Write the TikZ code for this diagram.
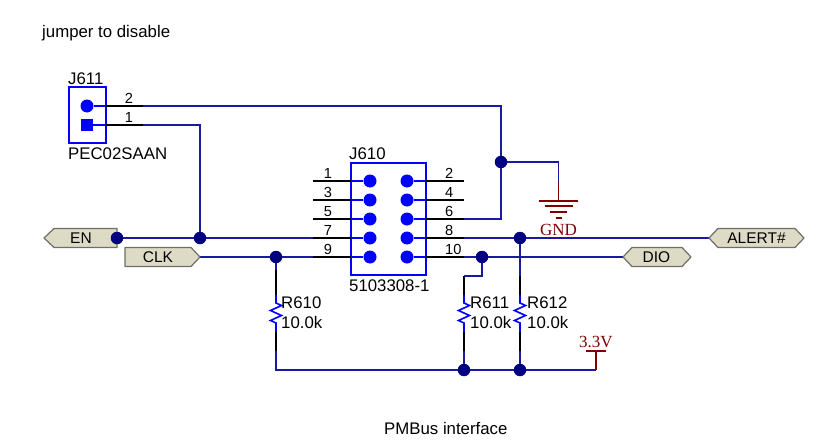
\documentclass[tikz,border=0pt]{standalone}
\usepackage{fontspec}
\setmainfont{Liberation Sans}
\newfontfamily\serifnet{Liberation Serif}
\definecolor{netblue}{HTML}{1A1AA0}
\definecolor{pinblue}{HTML}{0000FF}
\definecolor{junc}{HTML}{000080}
\definecolor{portfill}{HTML}{DDDAC6}
\definecolor{portedge}{HTML}{6E6E64}
\definecolor{pwr}{HTML}{800000}
\tikzset{
 net/.style={draw=netblue,line width=1.6pt},
 pinwire/.style={draw=black,line width=1.6pt},
 thinpin/.style={draw=pinblue,line width=1.2pt},
 pwrline/.style={draw=pwr,line width=1.8pt},
 dotj/.style={circle,fill=junc,inner sep=0pt,minimum size=12.5pt},
 dotp/.style={circle,fill=pinblue,inner sep=0pt,minimum size=13pt},
 sqp/.style={rectangle,fill=pinblue,inner sep=0pt,minimum size=12pt},
 lab/.style={inner sep=0pt,font=\fontsize{16.8}{16.8}\selectfont,text=black},
 plab/.style={inner sep=0pt,font=\fontsize{14.6}{14.6}\selectfont,text=black},
 portlab/.style={inner sep=0pt,font=\fontsize{15.5}{15.5}\selectfont,text=black},
 pwrlab/.style={inner sep=0pt,font=\serifnet\fontsize{17}{17}\selectfont,text=pwr},
 port/.style={fill=portfill,draw=portedge,line width=1.2pt,line join=round},
}
\newcommand{\resistor}[1]{%
 \draw[draw=pinblue,line width=1.6pt,line join=miter] (#1,295) -- (#1,303) -- ++(5.5,2.5) -- ++(-11,5) -- ++(11,5) -- ++(-11,5) -- ++(5.5,2.5) -- (#1,332);}
\begin{document}
\begin{tikzpicture}[x=1pt,y=-1pt]
\useasboundingbox (0,0) rectangle (817,444);
% texts
\node[lab,anchor=west] (title) at (42,33.5) {jumper to disable};
\node[lab,anchor=west] (foot) at (384,428) {PMBus interface};
% J611
\node[draw=pinblue,line width=2pt,inner sep=0pt,minimum width=37pt,minimum height=55pt] (J611) at (87,115) {};
\node[dotp] (j2) at (87,106) {};
\node[sqp] (j1) at (87,125) {};
\node[lab,anchor=west] (J611ref) at (68,79) {J611};
\node[lab,anchor=west] (J611val) at (68,154) {PEC02SAAN};
\coordinate (j2e) at (143,106);
\coordinate (j1e) at (143,125);
\coordinate (j2b) at (106,106);
\coordinate (j1b) at (106,125);
\node[plab] (j2n) at (129,98.5) {2};
\node[plab] (j1n) at (129,117.5) {1};
% J610
\node[draw=pinblue,line width=2pt,inner sep=0pt,minimum width=75pt,minimum height=112.5pt] (J610) at (388.5,219) {};
\node[lab,anchor=west] (J610ref) at (349,154) {J610};
\node[lab,anchor=west] (J610val) at (349,286) {5103308-1};
\foreach \n/\y/\numl/\numr in {1/181/1/2,2/200/3/4,3/219/5/6,4/238/7/8,5/257/9/10}{
  \coordinate (Lb\n) at (351,\y);
  \coordinate (Rb\n) at (426,\y);
  \coordinate (Le\n) at (313,\y);
  \coordinate (Re\n) at (464,\y);
  \node[plab] (Ln\n) at (328,\y-7.5) {\numl};
  \node[plab,anchor=west] (Rn\n) at (445,\y-7.5) {\numr};
}
% junctions
\coordinate (jEN) at (117,238);
\coordinate (jA) at (200,238);
\coordinate (jC) at (276,257);
\coordinate (jD) at (482,257);
\coordinate (jB) at (520,238);
\coordinate (jG) at (501,162);
\coordinate (jR1) at (464,370);
\coordinate (jR2) at (520,370);
\coordinate (vcc) at (596,370);
\coordinate (vccb) at (596,351);
\coordinate (gndc) at (558.5,162);
\coordinate (gndp) at (558.5,182);
\coordinate (gndb) at (558.5,201);
\coordinate (c6) at (501,219);
\coordinate (c611) at (464,276);
\coordinate (c482) at (482,276);
\coordinate (c1) at (200,125);
\coordinate (c2) at (501,106);
\coordinate (r0t) at (276,270);
\coordinate (r0a) at (276,295);
\coordinate (r0b) at (276,332);
\coordinate (r0c) at (276,351);
\coordinate (r0d) at (276,370);
\coordinate (r1a) at (464,295);
\coordinate (r1b) at (464,332);
\coordinate (r1c) at (464,351);
\coordinate (r2t) at (520,276);
\coordinate (r2a) at (520,295);
\coordinate (r2b) at (520,332);
\coordinate (r2c) at (520,351);
% ports
\coordinate (CLKr) at (200,257);
\coordinate (DIOl) at (623,257);
\coordinate (ALl) at (709,238);
% nets
\draw[net] (j2e) -- (c2) -- (jG) -- (c6) -- (Re3);
\draw[net] (j1e) -- (c1) -- (jA);
\draw[net] (jEN) -- (Le4);
\draw[net] (CLKr) -- (Le5);
\draw[net] (Re4) -- (ALl);
\draw[net] (Re5) -- (DIOl);
\draw[net] (jG) -- (gndc) -- (gndp);
\draw[net] (jC) -- (r0t);
\draw[net] (jB) -- (r2t);
\draw[net] (jD) -- (c482) -- (c611);
\draw[net] (r0c) -- (r0d) -- (vcc);
\draw[net] (r1c) -- (jR1);
\draw[net] (r2c) -- (jR2);
% pin wires
\draw[pinwire] (j2b) -- (j2e);
\draw[pinwire] (j1b) -- (j1e);
\draw[pinwire] (r0t) -- (r0a);
\draw[pinwire] (r0b) -- (r0c);
\draw[pinwire] (c611) -- (r1a);
\draw[pinwire] (r1b) -- (r1c);
\draw[pinwire] (r2t) -- (r2a);
\draw[pinwire] (r2b) -- (r2c);
\draw[thinpin] (j2) -- (j2b);
\draw[thinpin] (j1) -- (j1b);
\foreach \n in {1,...,5}{
  \draw[pinwire] (Le\n) -- (Lb\n);
  \draw[pinwire] (Rb\n) -- (Re\n);
}
\foreach \n/\y in {1/181,2/200,3/219,4/238,5/257}{
  \node[dotp] (L\n) at (370,\y) {};
  \node[dotp] (R\n) at (407,\y) {};
  \draw[thinpin] (L\n) -- (Lb\n);
  \draw[thinpin] (R\n) -- (Rb\n);
}
% resistors
\resistor{276}\resistor{464}\resistor{520}
\node[lab,anchor=west] (R610) at (281,303) {R610};
\node[lab,anchor=west] (R610v) at (281,322) {10.0k};
\node[lab,anchor=west] (R611) at (470,303) {R611};
\node[lab,anchor=west] (R611v) at (470,322) {10.0k};
\node[lab,anchor=west] (R612) at (527,303) {R612};
\node[lab,anchor=west] (R612v) at (527,322) {10.0k};
% power
\draw[pwrline] (gndp) -- (gndb);
\draw[pwrline] (539,200.7) -- (578,200.7);
\draw[pwrline] (544.5,206.3) -- (572.5,206.3);
\draw[pwrline] (550,212) -- (567,212);
\draw[pwrline] (555.5,217.7) -- (561.5,217.7);
\node[pwrlab] (GND) at (558.5,229.5) {GND};
\draw[pwrline] (vcc) -- (vccb);
\draw[pwrline] (586,351) -- (606,351);
\node[pwrlab] (V33) at (596,342) {3.3V};
% port shapes
\draw[port] (44,238) -- (54,228.5) -- (117,228.5) -- (117,247.5) -- (54,247.5) -- cycle;
\node[portlab] (EN) at (81,238.5) {EN};
\draw[port] (125,247.5) -- (191,247.5) -- (200,257) -- (191,266.5) -- (125,266.5) -- cycle;
\node[portlab] (CLK) at (158,257.5) {CLK};
\draw[port] (623,257) -- (632,247.5) -- (682,247.5) -- (691,257) -- (682,266.5) -- (632,266.5) -- cycle;
\node[portlab] (DIO) at (656.5,257.5) {DIO};
\draw[port] (709,238) -- (718,228.5) -- (795,228.5) -- (804,238) -- (795,247.5) -- (718,247.5) -- cycle;
\node[portlab] (ALERT) at (756.5,238.5) {ALERT\#};
% junction dots
\foreach \c in {jEN,jA,jC,jD,jB,jG,jR1,jR2}{\node[dotj] (d\c) at (\c) {};}
\end{tikzpicture}
\end{document}
